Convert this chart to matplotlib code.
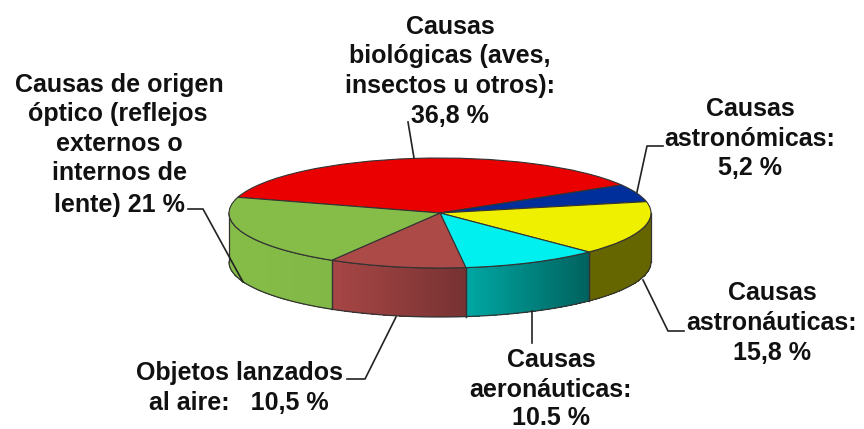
import numpy as np
import matplotlib
matplotlib.use('Agg')
import matplotlib.pyplot as plt
from matplotlib.colors import to_rgb

plt.rcParams['font.family'] = ['Liberation Sans', 'DejaVu Sans']

causes = ['Biológicas', 'Astronómicas', 'Astronáuticas', 'Aeronáuticas', 'Objetos', 'Óptico']
shares = [36.8, 5.2, 15.8, 10.5, 10.5, 21.0]

top_colors = ['#ea0000', '#002f9c', '#efef00', '#00efef', '#ac4a48', '#86bd48']
wall_left = ['#c00000', '#001f70', '#666600', '#00a8a4', '#a84646', '#86bd48']
wall_right = ['#c00000', '#001f70', '#666600', '#00625e', '#773232', '#82b846']

label_lines = [
    ['Causas', 'biológicas (aves,', 'insectos u otros):', '36,8 %'],
    ['Causas', 'astronómicas:', '5,2 %'],
    ['Causas', 'astronáuticas:', '15,8 %'],
    ['Causas', 'aeronáuticas:', '10.5 %'],
    ['Objetos lanzados', 'al aire:   10,5 %'],
    ['Causas de origen', 'óptico (reflejos', 'externos o', 'internos de', 'lente) 21 %'],
]
# pixel centres of each text line
label_x = [[450] * 4, [750] * 3, [772] * 3, [551] * 3, [239, 239], [119, 118, 119, 120, 119]]
label_y = [[27, 56, 86, 116], [109, 139, 168], [293, 323, 353], [360, 390, 418], [373, 403],
           [85, 114, 144, 173, 205]]
leaders = [
    ([408, 414], [122, 158]),
    ([663, 647, 637], [146, 146, 192]),
    ([643, 668, 684], [280, 331, 331]),
    ([532, 532], [311, 343]),
    ([396, 365, 347], [317, 379, 379]),
    ([188, 203, 243], [209, 209, 282]),
]

W, H = 864, 429
CX, CY, RX, RY, DEPTH = 440, 213, 211, 55, 49
START = 163.4

fig = plt.figure(figsize=(W / 100, H / 100), dpi=100)
ax = fig.add_axes([0, 0, 1, 1])

# top face, a unit pie squashed by the axes limits
wedges, _ = ax.pie(shares, colors=top_colors, startangle=START, counterclock=False,
                   wedgeprops=dict(edgecolor='#333333', linewidth=0.8, zorder=3))
ax.set_aspect('auto')
ax.set_xlim(-CX / RX, (W - CX) / RX)
ax.set_ylim(-(H - CY) / RY, CY / RY)
depth = DEPTH / RY

# side walls, only the front half of the rim shows
for w, cl, cr in zip(wedges, wall_left, wall_right):
    a1, a2 = w.theta1 % 360, w.theta2 % 360
    if a2 <= a1:
        a2 += 360
    for off in (0, 360, -360):
        lo, hi = max(a1 + off, 180), min(a2 + off, 360)
        if hi <= lo:
            continue
        n = max(int(hi - lo) * 2, 2)
        t = np.radians(np.linspace(lo, hi, n + 1))
        xs, ys = np.cos(t), np.sin(t)
        c0, c1 = np.array(to_rgb(cl)), np.array(to_rgb(cr))
        for i in range(n):
            f = (xs[i] + xs[i + 1] - 2 * xs[0]) / 2 / (xs[-1] - xs[0])
            col = c0 + (c1 - c0) * f
            ax.fill([xs[i], xs[i + 1], xs[i + 1], xs[i]],
                    [ys[i], ys[i + 1], ys[i + 1] - depth, ys[i] - depth],
                    color=col, lw=0, antialiased=False, zorder=1)
        ax.plot(xs, ys - depth, color='#333333', lw=0.9, zorder=2)
        ax.plot(xs, ys, color='#333333', lw=0.9, zorder=2)
        for j in (0, -1):
            ax.plot([xs[j], xs[j]], [ys[j], ys[j] - depth], color='#333333', lw=0.9, zorder=2)

# overlay in pixel coordinates for the labels and leader lines
ov = fig.add_axes([0, 0, 1, 1])
ov.set_xlim(0, W)
ov.set_ylim(H, 0)
ov.axis('off')
ov.patch.set_alpha(0)

for xs, ys in leaders:
    ov.plot(xs, ys, color='#222222', lw=1.2)
for lines, xs, ys in zip(label_lines, label_x, label_y):
    for s, x, y in zip(lines, xs, ys):
        ov.text(x, y, s, ha='center', va='center', fontsize=18, fontweight='bold', color='#111111')

fig.savefig('out.png', dpi=100)
